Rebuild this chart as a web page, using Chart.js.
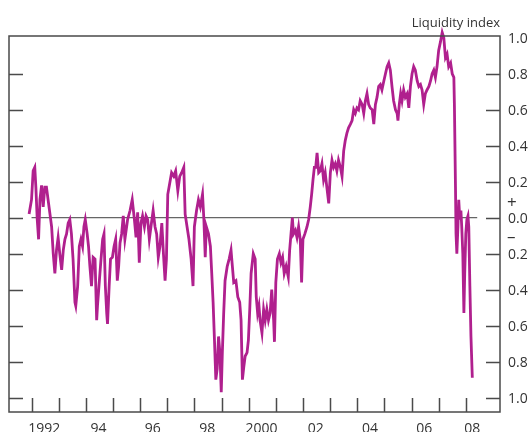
<!DOCTYPE html>
<html>
<head>
<meta charset="utf-8">
<script src="https://cdn.jsdelivr.net/npm/chart.js@4/dist/chart.umd.min.js"></script>
<style>
  html, body { margin: 0; padding: 0; background: #fff; }
  canvas { display: block; }
</style>
</head>
<body>
<canvas id="chart" width="532" height="432"></canvas>
<script>
// liquidity index (years as decimals)
const dates = [
  1991.91, 1992.00, 1992.06, 1992.12, 1992.16, 1992.21, 1992.26, 1992.31, 1992.37, 1992.43,
  1992.49, 1992.55, 1992.61, 1992.68, 1992.74, 1992.80, 1992.86, 1992.92, 1992.98, 1993.04,
  1993.11, 1993.17, 1993.23, 1993.29, 1993.35, 1993.41, 1993.47, 1993.53, 1993.60, 1993.63,
  1993.70, 1993.76, 1993.82, 1993.88, 1993.93, 1993.98, 1994.05, 1994.10, 1994.15, 1994.21,
  1994.27, 1994.34, 1994.40, 1994.43, 1994.50, 1994.56, 1994.62, 1994.67, 1994.72, 1994.77,
  1994.80, 1994.86, 1994.91, 1994.98, 1995.04, 1995.10, 1995.16, 1995.21, 1995.26, 1995.32,
  1995.38,
  1995.44, 1995.54, 1995.63, 1995.71, 1995.79, 1995.85, 1995.91, 1995.97, 1996.03, 1996.09,
  1996.16, 1996.22, 1996.28, 1996.34, 1996.40, 1996.48, 1996.55, 1996.61, 1996.67, 1996.73,
  1996.80, 1996.86, 1996.92, 1996.97, 1997.02, 1997.09, 1997.16, 1997.24, 1997.31, 1997.39,
  1997.46, 1997.53, 1997.61, 1997.66, 1997.73, 1997.80, 1997.88, 1997.95, 1998.00, 1998.08,
  1998.15, 1998.22, 1998.30, 1998.35, 1998.40, 1998.44, 1998.52, 1998.59, 1998.64, 1998.69,
  1998.74, 1998.79, 1998.84, 1998.89, 1998.94, 1998.99, 1999.03, 1999.08, 1999.13, 1999.21,
  1999.28, 1999.35, 1999.40, 1999.45, 1999.53, 1999.60, 1999.67, 1999.72, 1999.77, 1999.82,
  1999.87, 1999.94, 1999.99, 2000.04, 2000.09, 2000.17,
  2000.24, 2000.28, 2000.33, 2000.38, 2000.42, 2000.49, 2000.55, 2000.61, 2000.67, 2000.73,
  2000.79, 2000.85, 2000.92, 2000.95, 2001.00, 2001.06, 2001.13, 2001.19, 2001.25, 2001.31,
  2001.38, 2001.46, 2001.51, 2001.56, 2001.61, 2001.65, 2001.72, 2001.78, 2001.84, 2001.90,
  2001.95, 2002.00, 2002.07, 2002.15, 2002.21, 2002.27, 2002.32, 2002.37, 2002.42, 2002.47,
  2002.52, 2002.58, 2002.64, 2002.70, 2002.76, 2002.82, 2002.88, 2002.95, 2003.01, 2003.07,
  2003.13, 2003.19, 2003.25, 2003.31, 2003.38, 2003.44, 2003.50, 2003.56, 2003.62, 2003.68,
  2003.75, 2003.81, 2003.87, 2003.93, 2003.99, 2004.05, 2004.11, 2004.18, 2004.24, 2004.30,
  2004.36, 2004.42, 2004.48, 2004.55, 2004.61, 2004.67, 2004.73, 2004.79,
  2004.85, 2004.91, 2004.98, 2005.04, 2005.10, 2005.16, 2005.22, 2005.28, 2005.34, 2005.41,
  2005.47, 2005.50, 2005.55, 2005.60, 2005.65, 2005.71, 2005.77, 2005.84, 2005.90, 2005.96,
  2006.02, 2006.08, 2006.14, 2006.21, 2006.27, 2006.33, 2006.39, 2006.45, 2006.51, 2006.57,
  2006.64, 2006.70, 2006.76, 2006.82, 2006.88, 2006.94, 2007.00, 2007.07, 2007.13, 2007.19,
  2007.25, 2007.31, 2007.37, 2007.44, 2007.50, 2007.56, 2007.58, 2007.62, 2007.64, 2007.67,
  2007.71, 2007.74, 2007.78, 2007.82, 2007.85, 2007.89, 2007.93, 2007.96, 2008.00, 2008.04,
  2008.08, 2008.11, 2008.15, 2008.19, 2008.24
];
const liquidity = [
  0.02, 0.10, 0.26, 0.28, 0.17, -0.01, -0.12, 0.10, 0.18, 0.06,
  0.17, 0.17, 0.10, 0.02, -0.05, -0.20, -0.31, -0.18, -0.11, -0.20,
  -0.29, -0.18, -0.12, -0.09, -0.03, -0.01, -0.09, -0.23, -0.47, -0.49,
  -0.38, -0.16, -0.12, -0.16, -0.05, -0.01, -0.09, -0.16, -0.27, -0.38,
  -0.22, -0.23, -0.57, -0.49, -0.35, -0.23, -0.12, -0.09, -0.38, -0.53,
  -0.59, -0.38, -0.23, -0.22, -0.16, -0.12, -0.35, -0.27, -0.14, -0.09,
  0.01,
  -0.12, -0.01, 0.04, 0.10, -0.01, -0.11, 0.03, -0.25, -0.03, 0.01,
  -0.05, 0.01, -0.01, -0.12, -0.05, 0.04, -0.05, -0.09, -0.22, -0.16,
  -0.03, -0.20, -0.35, -0.23, 0.13, 0.19, 0.25, 0.23, 0.26, 0.15,
  0.23, 0.25, 0.28, 0.02, -0.05, -0.12, -0.23, -0.38, -0.05, 0.04,
  0.10, 0.06, 0.13, -0.01, -0.22, -0.05, -0.09, -0.16, -0.31, -0.47,
  -0.68, -0.90, -0.84, -0.66, -0.75, -0.97, -0.75, -0.53, -0.35, -0.27,
  -0.23, -0.18, -0.27, -0.36, -0.35, -0.44, -0.47, -0.57, -0.90, -0.83,
  -0.77, -0.75, -0.68, -0.51, -0.31, -0.20,
  -0.23, -0.44, -0.53, -0.49, -0.57, -0.64, -0.51, -0.57, -0.51, -0.57,
  -0.53, -0.40, -0.57, -0.69, -0.36, -0.23, -0.20, -0.25, -0.22, -0.31,
  -0.27, -0.33, -0.18, -0.09, 0.00, -0.09, -0.07, -0.11, -0.05, -0.12,
  -0.36, -0.12, -0.09, -0.05, -0.01, 0.06, 0.13, 0.21, 0.28, 0.28,
  0.36, 0.25, 0.26, 0.30, 0.21, 0.25, 0.17, 0.08, 0.25, 0.32,
  0.28, 0.30, 0.26, 0.32, 0.28, 0.23, 0.37, 0.43, 0.47, 0.50,
  0.52, 0.54, 0.60, 0.58, 0.61, 0.60, 0.65, 0.63, 0.58, 0.65,
  0.69, 0.63, 0.61, 0.60, 0.52, 0.63, 0.67, 0.73,
  0.74, 0.71, 0.76, 0.80, 0.84, 0.86, 0.82, 0.73, 0.65, 0.60,
  0.58, 0.54, 0.63, 0.69, 0.65, 0.71, 0.67, 0.69, 0.61, 0.73,
  0.80, 0.84, 0.82, 0.76, 0.73, 0.74, 0.71, 0.63, 0.69, 0.71,
  0.73, 0.76, 0.80, 0.82, 0.78, 0.84, 0.93, 0.98, 1.03, 1.00,
  0.89, 0.91, 0.84, 0.86, 0.80, 0.78, 0.63, 0.17, -0.09, -0.20,
  -0.05, 0.10, -0.01, 0.04, -0.05, -0.20, -0.53, -0.31, -0.09, -0.01,
  0.01, -0.05, -0.38, -0.66, -0.89
];

const yearTicks = [1992, 1993, 1994, 1995, 1996, 1997, 1998, 1999, 2000,
  2001, 2002, 2003, 2004, 2005, 2006, 2007, 2008];
const yearLabels = ["1992", "94", "96", "98", "2000", "02", "04", "06", "08"];
const yearLabelAt = [1992, 1994, 1996, 1998, 2000, 2002, 2004, 2006, 2008];
const valueTicks = [1.0, 0.8, 0.6, 0.4, 0.2, 0.0, -0.2, -0.4, -0.6, -0.8, -1.0];
const zeroLine = [1992.0, 2008.42];

const INK = "#4a4a4a";
const TEXT = "#333333";
const FONT = "'Open Sans', 'Noto Sans', sans-serif";

const frame = {
  id: "frame",
  afterDatasetsDraw(chart) {
    const { ctx, chartArea: a, scales } = chart;
    const x = scales.x, y = scales.y;
    const tick = 14;
    ctx.save();
    ctx.strokeStyle = INK;
    ctx.lineWidth = 1.5;
    ctx.strokeRect(a.left, a.top, a.right - a.left, a.bottom - a.top);

    ctx.beginPath();
    valueTicks.forEach((v) => {
      if (v >= 1) return;
      const py = Math.round(y.getPixelForValue(v)) + 0.5;
      ctx.moveTo(a.left, py); ctx.lineTo(a.left + tick, py);
      ctx.moveTo(a.right, py); ctx.lineTo(a.right - tick, py);
    });
    yearTicks.forEach((yr) => {
      const px = Math.round(x.getPixelForValue(yr)) + 0.5;
      ctx.moveTo(px, a.bottom); ctx.lineTo(px, a.bottom - tick);
    });
    ctx.stroke();

    ctx.fillStyle = TEXT;
    ctx.font = "14px " + FONT;
    ctx.textAlign = "left";
    ctx.textBaseline = "alphabetic";
    const lx = a.right + 8;
    valueTicks.forEach((v) => {
      ctx.fillText(Math.abs(v).toFixed(1), lx, y.getPixelForValue(v) + 5);
    });
    ctx.font = "17px " + FONT;
    ctx.fillText("+", lx - 1, y.getPixelForValue(0.09) + 6);
    ctx.fillText("\u2013", lx - 1, y.getPixelForValue(-0.1) + 6);

    ctx.font = "14px " + FONT;
    ctx.textAlign = "center";
    const lastYear = dates[dates.length - 1];
    yearLabels.forEach((lab, i) => {
      const at = Math.min(yearLabelAt[i] + 0.47, lastYear);
      ctx.fillText(lab, x.getPixelForValue(at), a.bottom + 21);
    });

    ctx.font = "13px " + FONT;
    ctx.textAlign = "right";
    ctx.fillText("Liquidity index", a.right, a.top - 9);
    ctx.restore();
  }
};

new Chart(document.getElementById("chart"), {
  type: "line",
  data: {
    datasets: [
      {
        label: "Liquidity index",
        data: dates.map((d, i) => ({ x: d, y: liquidity[i] })),
        borderColor: "#b0208e",
        borderWidth: 2.8,
        pointRadius: 0,
        tension: 0,
        clip: false,
        order: 1,
      },
      {
        label: "zero",
        data: zeroLine.map((d) => ({ x: d, y: 0 })),
        borderColor: "#666666",
        borderWidth: 1.3,
        pointRadius: 0,
        order: 2,
      },
    ],
  },
  options: {
    responsive: false,
    animation: false,
    layout: { padding: { left: 9, top: 36, right: 32, bottom: 20 } },
    plugins: { legend: { display: false }, tooltip: { enabled: false } },
    scales: {
      x: { type: "linear", min: 1991.17, max: 2009.26, display: false },
      y: { min: -1.08, max: 1.01, display: false },
    },
  },
  plugins: [frame],
});
</script>
</body>
</html>
